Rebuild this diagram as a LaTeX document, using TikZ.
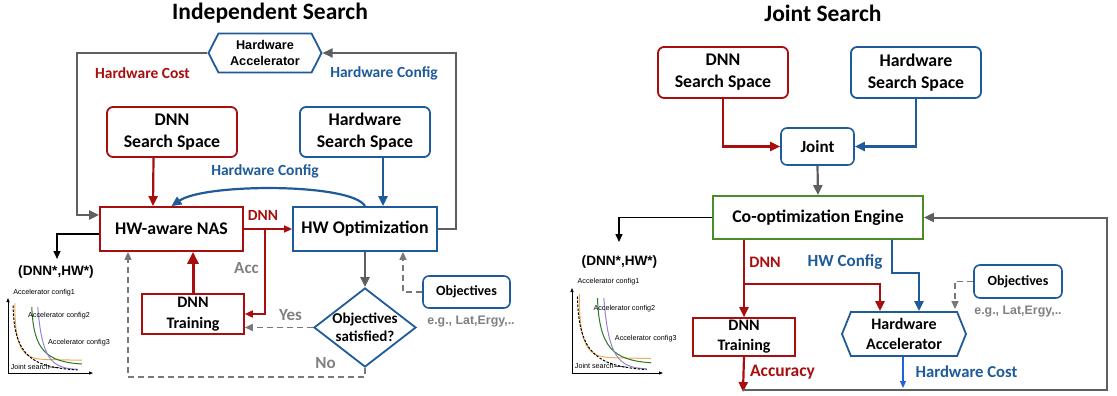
\documentclass[tikz,border=0pt]{standalone}
\usepackage{fontspec}
\setmainfont{Carlito}
\newfontfamily\arialf{Liberation Sans}
\usetikzlibrary{arrows.meta,shapes.geometric,shapes.symbols,calc}
\definecolor{myred}{RGB}{168,14,14}
\definecolor{myblue}{RGB}{31,91,153}
\definecolor{mygreen}{RGB}{76,138,42}
\definecolor{mygray}{RGB}{95,95,95}
\definecolor{lgray}{RGB}{120,120,120}
\definecolor{tgray}{RGB}{128,128,128}
\definecolor{orangec}{RGB}{240,170,85}
\definecolor{greenc}{RGB}{45,120,40}
\definecolor{purplec}{RGB}{150,130,210}
\definecolor{hcblue}{RGB}{30,100,220}
\newcommand{\paretoplot}{%
  \draw[line width=0.8pt,-{Triangle[length=4pt,width=3pt]}] (0,0) -- (0,1);
  \draw[line width=0.8pt,-{Triangle[length=4pt,width=3pt]}] (0,0) -- (1,0);
  \draw[orangec,line width=1pt] (0.08,0.93) .. controls (0.08,0.25) and (0.2,0.19) .. (0.45,0.18) -- (0.87,0.17);
  \draw[greenc,line width=1pt] (0.28,0.88) .. controls (0.3,0.3) and (0.45,0.15) .. (0.87,0.12);
  \draw[purplec,line width=1pt] (0.35,0.88) .. controls (0.4,0.2) and (0.5,0.06) .. (0.82,0.05);
  \draw[black,line width=1pt,dash pattern=on 2.5pt off 1.5pt] (0.06,0.9) .. controls (0.07,0.2) and (0.3,0.08) .. (0.82,0.04);
  \node[pl,anchor=west] (pa) at (0.06,1.07) {Accelerator config1};
  \node[pl,anchor=west] (pb) at (0.235,0.76) {Accelerator config2};
  \node[pl,anchor=west] (pc) at (0.47,0.41) {Accelerator config3};
  \node[pl,anchor=west] (pd) at (0.03,0.08) {Joint search};
  \draw[line width=0.5pt] (pd.east) -- (0.6,0.07);
}
\begin{document}
\begin{tikzpicture}[x=1pt,y=-1pt,
  box/.style={draw, line width=1.8pt, inner sep=0pt, align=center, font=\bfseries\fontsize{17.8pt}{22pt}\selectfont},
  rbox/.style={box, rounded corners=6pt},
  hexa/.style={signal, signal to=west and east, draw=myblue, line width=1.8pt, inner sep=0pt, align=center},
  lab/.style={font=\bfseries\fontsize{15.5pt}{18pt}\selectfont, inner sep=0pt},
  glab/.style={font=\bfseries\fontsize{17pt}{20pt}\selectfont, text=tgray, inner sep=0pt},
  egl/.style={font=\arialf\bfseries\fontsize{12.4pt}{14pt}\selectfont, text=tgray, inner sep=0pt},
  dst/.style={font=\arialf\bfseries\fontsize{13.6pt}{16pt}\selectfont, inner sep=0pt},
  pl/.style={font=\arialf\fontsize{7.2pt}{8pt}\selectfont, inner sep=0pt},
  tip/.style={-{Triangle[length=10pt,width=9pt]}},
  stip/.style={-{Triangle[length=8pt,width=7pt]}},
  btip/.style={-{Triangle[length=12pt,width=11pt]}},
  redl/.style={draw=myred, line width=2.2pt},
  bluel/.style={draw=myblue, line width=2.2pt},
  grayl/.style={draw=mygray, line width=2.2pt},
  dashl/.style={draw=lgray, line width=1.6pt, dash pattern=on 6pt off 4pt},
  blackl/.style={draw=black, line width=1.5pt}
]
\useasboundingbox (0,0) rectangle (1117,396);

% ---------------- titles
\node[font=\bfseries\fontsize{23.5pt}{26pt}\selectfont] (t1) at (270,13) {Independent Search};
\node[font=\bfseries\fontsize{23.5pt}{26pt}\selectfont] (t2) at (823,13) {Joint Search};

% ================= LEFT PANEL
\node[hexa, minimum width=113pt, minimum height=39pt, signal pointer angle=126,
      font=\arialf\bfseries\fontsize{12.7pt}{16pt}\selectfont] (hexL) at (265,53) {Hardware\\Accelerator};
\node[rbox, draw=myred, minimum width=130pt, minimum height=50pt] (dnnL) at (172,132) {DNN\\Search Space};
\node[rbox, draw=myblue, minimum width=130pt, minimum height=50pt] (hwsL) at (365,132) {Hardware\\Search Space};
\node[box, draw=myred, minimum width=143pt, minimum height=44pt] (nas) at (171.5,229) {HW-aware NAS};
\node[box, draw=myblue, minimum width=144pt, minimum height=44pt] (hwo) at (365,229) {HW Optimization};
\node[box, draw=myred, line width=1.6pt, minimum width=102pt, minimum height=40pt,
      font=\bfseries\fontsize{16pt}{21pt}\selectfont] (trL) at (193,314) {DNN\\Training};
\node[diamond, draw=myblue, line width=1.8pt, minimum width=102pt, minimum height=79pt, inner sep=0pt] (dia) at (365,327.5) {};
\node[align=center, inner sep=0pt, font=\bfseries\fontsize{15pt}{18pt}\selectfont] (diat) at (dia.center) {Objectives\\satisfied?};
\node[rbox, draw=myblue, line width=1.6pt, minimum width=87pt, minimum height=32pt,
      font=\bfseries\fontsize{14pt}{16pt}\selectfont] (objL) at (466.5,292) {Objectives};
\node[egl] (egL) at (471,322) {e.g., Lat,Ergy,..};
\node[dst] (dsL) at (56,272) {(DNN*,HW*)};

% labels
\node[lab, text=myred] (hcL) at (142.5,73) {Hardware Cost};
\node[lab, text=myblue] (hcfL) at (384,73) {Hardware Config};
\node[lab, text=myblue] (hcfL2) at (265,171) {Hardware Config};
\node[lab, text=myred] (dnnlabL) at (263,215) {DNN};
\node[glab] (accL) at (246.5,268) {Acc};
\node[glab] (yesL) at (290.5,315) {Yes};
\node[glab] (noL) at (325.5,363) {No};

% connectors
\coordinate (c1) at (77,215);
\draw[grayl, tip] (hexL.west) -| (c1) -- (c1 -| nas.west);
\coordinate (c2) at (456,53);
\draw[grayl, tip] (hwo.east) -| (c2) -- (hexL.east);
\draw[redl, tip] ([xshift=-18.5pt]dnnL.south) -- ([xshift=-18.5pt]nas.north);
\draw[bluel, tip] ([xshift=18pt]hwsL.south) -- ([xshift=18pt]hwo.north);
\draw[bluel, tip] (hwo.north) .. controls (352,183) and (205,183) .. (nas.north);
\draw[redl, line width=1.6pt, stip] (nas.east) -- (hwo.west);
\draw[redl, line width=1.6pt, stip] ($(nas.east)!0.44!(hwo.west)$) |- (trL.east);
\draw[redl, line width=3pt, btip] (trL.north) -- (trL.north |- nas.south);
\coordinate (c3) at (57,259);
\draw[blackl, stip] ([yshift=-5pt]nas.west) -| (c3);
\draw[grayl, tip] (hwo.south) -- (dia.north);
\draw[dashl, stip] (dia.west) -- (dia.west -| trL.east);
\coordinate (c4) at (128,377);
\draw[dashl, stip] (dia.south) |- (c4) -- (c4 |- nas.south);
\draw[dashl, stip] (objL.west) -| ([xshift=38pt]hwo.south);

\begin{scope}[shift={(8,373)}, x=85pt, y=75pt]
\paretoplot
\end{scope}

% ================= RIGHT PANEL
\node[rbox, draw=myred, minimum width=130pt, minimum height=51pt] (dnnR) at (723,72.5) {DNN\\Search Space};
\node[rbox, draw=myblue, minimum width=130pt, minimum height=51pt] (hwsR) at (916,72.5) {Hardware\\Search Space};
\node[rbox, draw=myblue, line width=1.6pt, minimum width=73pt, minimum height=37pt, font=\bfseries\fontsize{17pt}{20pt}\selectfont] (joint) at (817.5,146.5) {Joint};
\node[box, draw=mygreen, minimum width=210pt, minimum height=43pt] (eng) at (818,217.5) {Co-optimization Engine};
\node[box, draw=myred, line width=1.6pt, minimum width=102pt, minimum height=38pt,
      font=\bfseries\fontsize{16pt}{20pt}\selectfont] (trR) at (744,337) {DNN\\Training};
\node[hexa, minimum width=124pt, minimum height=44pt, signal pointer angle=136,
      font=\bfseries\fontsize{16pt}{20pt}\selectfont] (hexR) at (904,334) {Hardware\\Accelerator};
\node[rbox, draw=myblue, line width=1.6pt, minimum width=88pt, minimum height=33pt,
      font=\bfseries\fontsize{14pt}{16pt}\selectfont] (objR) at (1018,281.5) {Objectives};
\node[egl] (egR) at (1018,312) {e.g., Lat,Ergy,..};
\node[dst] (dsR) at (619.5,262) {(DNN*,HW*)};

\node[lab, text=myred, font=\bfseries\fontsize{16pt}{18pt}\selectfont] (dnnlabR) at (765,262) {DNN};
\node[lab, text=myblue, font=\bfseries\fontsize{17pt}{18pt}\selectfont] (hwcR) at (845,262) {HW Config};
\node[lab, text=myred, font=\bfseries\fontsize{17.5pt}{18pt}\selectfont] (accR) at (782.5,372) {Accuracy};
\node[lab, text=myblue, font=\bfseries\fontsize{16.7pt}{18pt}\selectfont] (hcR) at (966.5,372) {Hardware Cost};

\draw[redl, tip] (dnnR.south) |- (joint.west);
\draw[bluel, tip] (hwsR.south) |- (joint.east);
\draw[grayl, tip] (joint.south) -- (eng.north);
\coordinate (c5) at (619,242);
\draw[blackl, stip] (eng.west) -| (c5);
\draw[redl, tip] (trR.north |- eng.south) -- (trR.north);
\coordinate (br) at (743,284);
\draw[redl, tip] (br) -| ([xshift=-24pt]hexR.north);
\coordinate (bk) at (892,273);
\draw[bluel, tip] (eng.south -| bk) -- (bk) -| ([xshift=15pt]hexR.north);
\draw[dashl, stip] (objR.west) -| ([xshift=51pt, yshift=2pt]hexR.north);
\coordinate (ae) at (743,392);
\draw[redl, tip] (trR.south) -- (ae);
\coordinate (gb) at (1107,390);
\draw[grayl, line width=2pt, tip] (ae |- gb) -- (gb) |- (eng.east);
\coordinate (hce) at (903,388);
\draw[hcblue, line width=1.2pt, -{Triangle[length=7pt,width=6pt]}] (hexR.south -| hce) -- (hce);

\begin{scope}[shift={(572,373)}, x=91pt, y=85pt]
\paretoplot
\end{scope}
\end{tikzpicture}
\end{document}
